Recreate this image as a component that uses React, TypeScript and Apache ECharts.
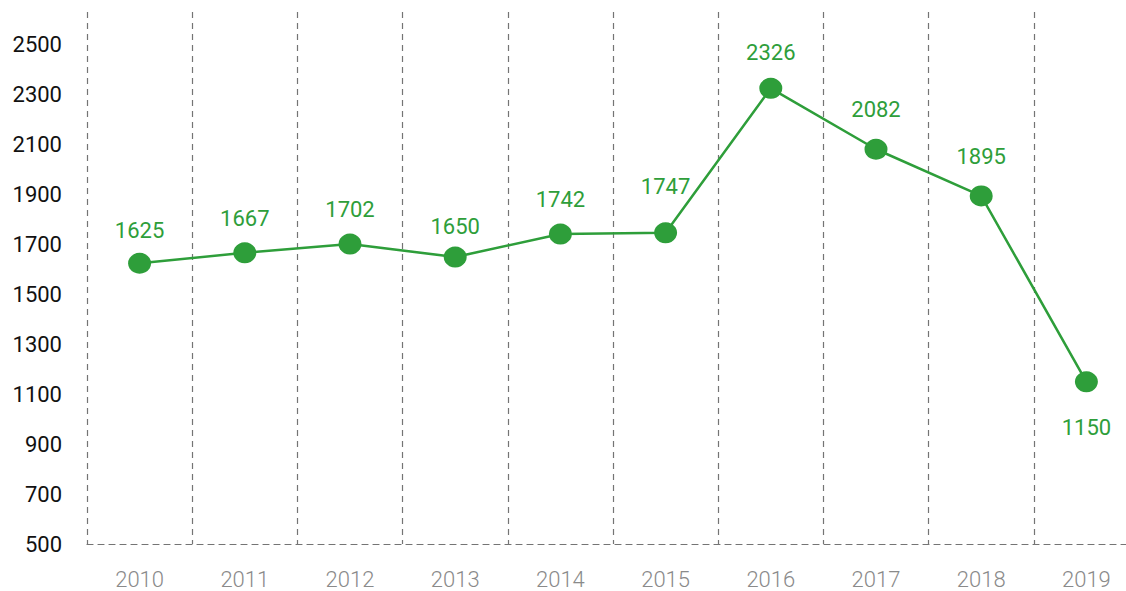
import React, { useEffect, useRef } from "react";
import * as echarts from "echarts";

const years = ["2010", "2011", "2012", "2013", "2014", "2015", "2016", "2017", "2018", "2019"];
const values = [1625, 1667, 1702, 1650, 1742, 1747, 2326, 2082, 1895, 1150];

const GREEN = "#2e9e3a";
const FONT = "Roboto, 'Liberation Sans', sans-serif";

export default function App() {
  const ref = useRef<HTMLDivElement>(null);
  useEffect(() => {
    document.body.style.margin = "0";
    document.body.style.overflow = "hidden";
    const chart = echarts.init(ref.current!, undefined, { renderer: "svg" });
    const lift: Record<number, number> = { 1: 2, 2: 2, 3: -2, 4: 2, 5: 14, 6: 3, 7: 7, 8: 7 };
    const data = values.map((v, i) => {
      if (i === values.length - 1) {
        return { value: v, label: { position: "bottom", distance: 24 } };
      }
      return { value: v, label: { position: "top", distance: 11 + (lift[i] || 0) } };
    });
    const dash = { color: "#747474", type: [6, 5], width: 1.2 };
    chart.setOption({
      animation: false,
      grid: { left: 87, right: 13, top: 12, bottom: 47, containLabel: false },
      xAxis: {
        type: "category",
        data: years,
        boundaryGap: true,
        axisLine: { show: true, lineStyle: dash },
        axisTick: { show: false },
        axisLabel: { color: "#8a8a8a", fontSize: 22, fontFamily: FONT, fontWeight: 300, margin: 24 },
        splitLine: { show: true, lineStyle: dash },
      },
      yAxis: {
        type: "value",
        min: 500,
        max: 2632,
        interval: 100,
        axisLine: { show: false },
        axisTick: { show: false },
        splitLine: { show: false },
        axisLabel: {
          color: "#111",
          fontSize: 22,
          fontFamily: FONT,
          margin: 25,
          showMaxLabel: false,
          formatter: (v: number) => ((v - 500) % 200 === 0 && v <= 2500 ? String(v) : ""),
        },
      },
      series: [
        {
          type: "line",
          data,
          symbol: "circle",
          symbolSize: [23, 21],
          itemStyle: { color: GREEN },
          lineStyle: { color: GREEN, width: 2.5 },
          label: { show: true, color: GREEN, fontSize: 22, fontFamily: FONT },
        },
      ],
    });
    return () => chart.dispose();
  }, []);
  return (
    <div style={{ width: 1126, height: 591, overflow: "hidden" }}>
      <div ref={ref} style={{ width: 1152, height: 591 }} />
    </div>
  );
}
